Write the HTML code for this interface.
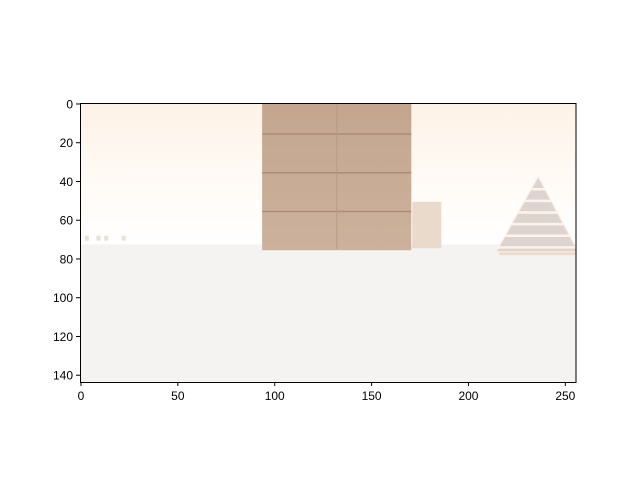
<!DOCTYPE html>
<html><head><meta charset="utf-8"><style>body{margin:0;background:#fff}svg{display:block;font-family:"Liberation Sans","DejaVu Sans",sans-serif}</style></head>
<body>
<svg id="chart" width="640" height="480" viewBox="0 0 640 480">
<defs>
<linearGradient id="sky" x1="0" y1="0" x2="0" y2="1">
<stop offset="0" stop-color="#fdf2e6"/><stop offset="0.5" stop-color="#fffaf5"/><stop offset="1" stop-color="#ffffff"/>
</linearGradient>
<linearGradient id="bld" x1="0" y1="0" x2="0" y2="1">
<stop offset="0" stop-color="#c4a68f"/><stop offset="1" stop-color="#ccb19c"/>
</linearGradient>
<clipPath id="clip"><rect x="80" y="103" width="496" height="279"/></clipPath>
<clipPath id="pyclip"><polygon id="pyshape" points="0,0"/></clipPath>
</defs>
<g id="scene" clip-path="url(#clip)"></g>
<rect x="80.5" y="103.5" width="495.5" height="279" fill="none" stroke="#000" stroke-width="1"/>
<g id="xticks"></g>
<g id="yticks"></g>
</svg>
<script>
const xTicks=[0,50,100,150,200,250];
const yTicks=[0,20,40,60,80,100,120,140];
const imgW=256, imgH=144;
const L=80,T=103,S=496/256;
const sx=v=>L+(v+0.5)*S, sy=v=>T+(v+0.5)*S;
const ns="http://www.w3.org/2000/svg";
function mk(tag,attrs,parent){const e=document.createElementNS(ns,tag);for(const k in attrs)e.setAttribute(k,attrs[k]);parent.appendChild(e);return e;}
const sc=document.getElementById('scene');
const sky=mk('rect',{x:L,y:T,width:496,height:sy(72.5)-T,fill:'url(#sky)'},sc);


const floor=mk('rect',{x:L,y:sy(72.5),width:496,height:382-sy(72.5),fill:'#f5f3f2'},sc);


const bx=mk('rect',{x:sx(171),y:sy(50.5),width:sx(186)-sx(171),height:sy(74.5)-sy(50.5),fill:'#e9dacb'},sc);


const bl=mk('rect',{x:sx(93.5),y:T,width:sx(170.5)-sx(93.5),height:sy(75.5)-T,fill:'url(#bld)'},sc);


[15.5,35.5,55.5].forEach(r=>{const l=mk('line',{x1:sx(93.5),x2:sx(170.5),y1:sy(r),y2:sy(r),stroke:'#a88d7a','stroke-width':1.5},sc);});
const vl=mk('line',{x1:sx(132),x2:sx(132),y1:T,y2:sy(75),stroke:'#b89c86','stroke-width':1},sc);


const pts=`${sx(236)},${sy(37)} ${sx(214)},${sy(76.5)} ${sx(257)},${sy(76.5)}`;
document.getElementById('pyshape').setAttribute('points',pts);
const pg=mk('g',{'clip-path':'url(#pyclip)'},sc);


const py=mk('polygon',{points:pts,fill:'#ddd4d2',stroke:'#fbeee0','stroke-width':2},pg);


[44,50,56,62,68,74].forEach(r=>{const l=mk('line',{x1:sx(212),x2:sx(256),y1:sy(r),y2:sy(r),stroke:'#fdf3e8','stroke-width':2.5},pg);});
const base=mk('rect',{x:sx(216),y:sy(76.5),width:sx(256)-sx(216),height:3,fill:'#eddccc'},sc);


[2,8,12,21].forEach(c=>{const r=mk('rect',{x:sx(c),y:sy(68),width:4,height:5,fill:'#ebdfd8'},sc);});
const xg=document.getElementById('xticks');
xTicks.forEach(v=>{const x=sx(v);mk('line',{x1:x,x2:x,y1:382,y2:386,stroke:'#000'},xg);const t=mk('text',{x:x,y:400,'font-size':12,'text-anchor':'middle'},xg);t.textContent=v;});
const yg=document.getElementById('yticks');
yTicks.forEach(v=>{const y=sy(v);mk('line',{x1:76,x2:80,y1:y,y2:y,stroke:'#000'},yg);const t=mk('text',{x:73,y:y+4.5,'font-size':12,'text-anchor':'end'},yg);t.textContent=v;});
</script>
</body></html>
